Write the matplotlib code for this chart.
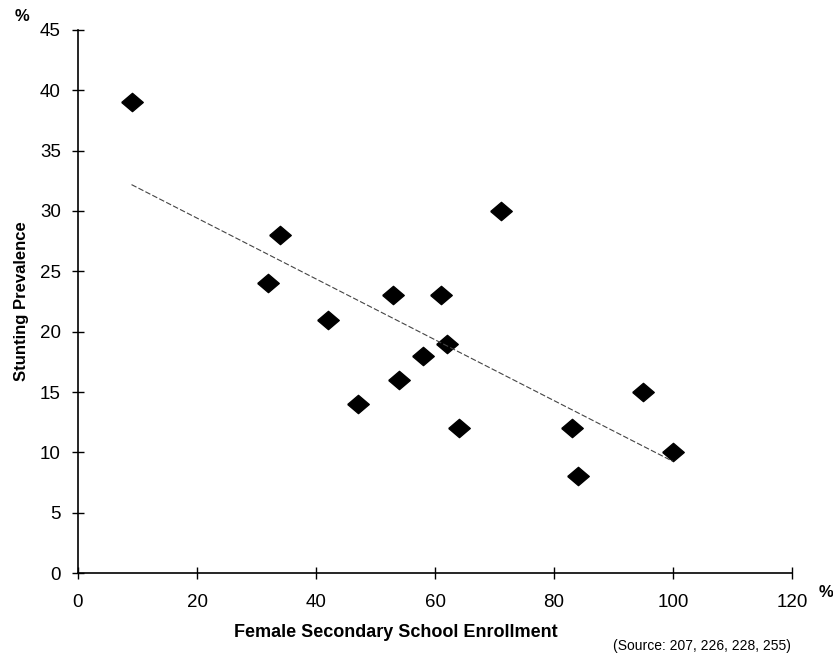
import matplotlib
matplotlib.use('Agg')
import matplotlib.pyplot as plt
import numpy as np

# female secondary school enrollment (%) vs stunting prevalence (%)
enrollment = [9, 32, 34, 42, 47, 53, 54, 58, 61, 62, 64, 71, 83, 84, 95, 100]
stunting = [39, 24, 28, 21, 14, 23, 16, 18, 23, 19, 12, 30, 12, 8, 15, 10]

x_ticks = [0, 20, 40, 60, 80, 100, 120]
y_ticks = [0, 5, 10, 15, 20, 25, 30, 35, 40, 45]

plt.rcParams['font.family'] = ['Liberation Sans', 'DejaVu Sans']

fig = plt.figure(figsize=(8.33, 6.56), dpi=100)
ax = fig.add_axes([0.0936, 0.1265, 0.8574, 0.8278])

diamond = [(-1, 0), (0, 0.85), (1, 0), (0, -0.85), (-1, 0)]
ax.plot(enrollment, stunting, linestyle='none', marker=diamond, markersize=15.5,
        color='black')

# linear trend line
slope, intercept = np.polyfit(enrollment, stunting, 1)
xs = np.array([min(enrollment), max(enrollment)])
ax.plot(xs, slope * xs + intercept, color='#444444', linewidth=0.8,
        linestyle=(0, (5, 2)))

ax.set_xlim(0, 120)
ax.set_ylim(0, 45)
ax.set_xticks(x_ticks)
ax.set_yticks(y_ticks)
ax.tick_params(direction='inout', length=8.5, width=1, labelsize=13.5)
ax.tick_params(axis='x', pad=11)
ax.tick_params(axis='y', pad=8)
for s in ['top', 'right']:
    ax.spines[s].set_visible(False)
ax.spines['left'].set_linewidth(1.2)
ax.spines['bottom'].set_linewidth(1.2)

ax.set_xlabel('Female Secondary School Enrollment', fontsize=13,
              fontweight='bold')
ax.xaxis.set_label_coords(0.445, -0.093)
ax.set_ylabel('Stunting Prevalence', fontsize=12, fontweight='bold', labelpad=8)

fig.text(0.027, 0.975, '%', fontsize=12, fontweight='bold', ha='center', va='center')
fig.text(0.991, 0.097, '%', fontsize=12, fontweight='bold', ha='center', va='center')
fig.text(0.950, 0.004, '(Source: 207, 226, 228, 255)', fontsize=10,
         ha='right', va='bottom')

fig.savefig('out.png', dpi=100)
